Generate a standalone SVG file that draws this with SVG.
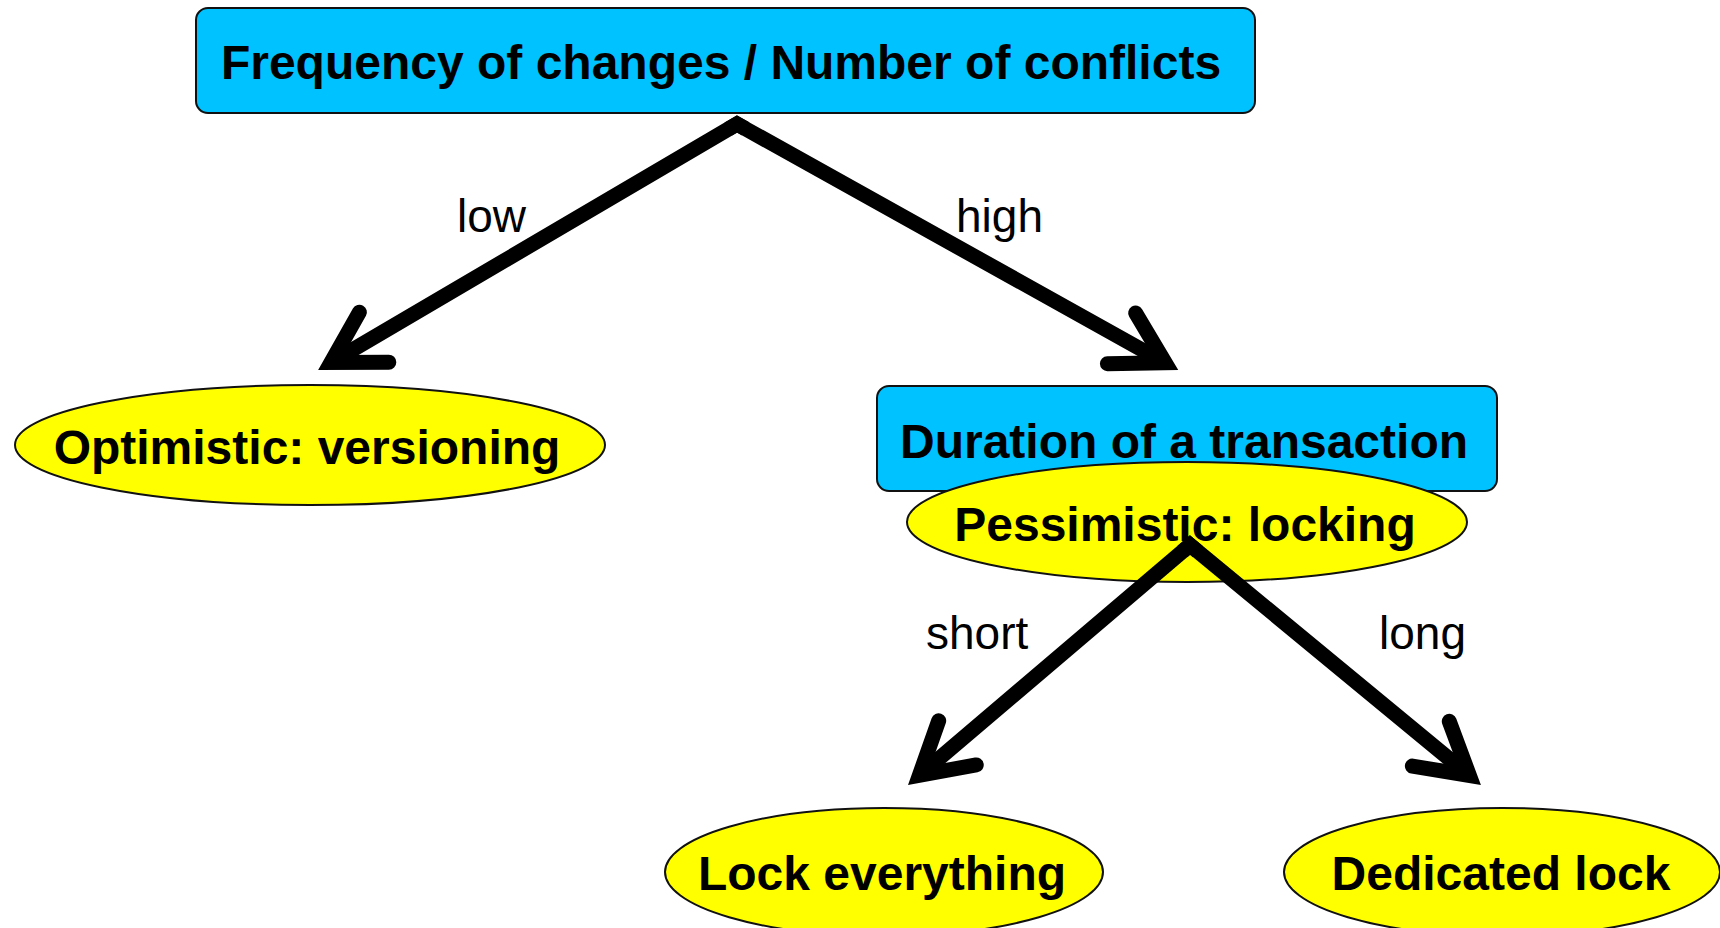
<svg xmlns="http://www.w3.org/2000/svg" width="1720" height="928" viewBox="0 0 1720 928">
<style>
.box{fill:#00C2FF;stroke:#111;stroke-width:2}
.ell{fill:#FFFF00;stroke:#111;stroke-width:2}
.nt{font-family:"Liberation Sans",Arial,sans-serif;font-weight:bold;font-size:48px;fill:#000;text-anchor:middle}
.lbl{font-family:"Liberation Sans",Arial,sans-serif;font-size:46px;fill:#000}
.edge{fill:none;stroke:#000;stroke-width:15;stroke-linejoin:miter;stroke-linecap:butt}
</style>
<defs>
<marker id="arrow" markerUnits="userSpaceOnUse" viewBox="-70 -45 90 90" refX="0" refY="0" markerWidth="90" markerHeight="90" orient="auto">
<path d="M-50,-29 L0,0 L-50,29" fill="none" stroke="#000" stroke-width="15" stroke-linecap="round" stroke-linejoin="miter"/>
</marker>
</defs>
<g id="node-frequency">
<rect class="box" x="196" y="8" width="1059" height="105" rx="12"/>
<text class="nt" x="721" y="79">Frequency of changes / Number of conflicts</text>
</g>
<g id="node-optimistic">
<ellipse class="ell" cx="310" cy="445" rx="295" ry="60"/>
<text class="nt" x="307" y="464">Optimistic: versioning</text>
</g>
<g id="node-duration">
<rect class="box" x="877" y="386" width="620" height="105" rx="12"/>
<text class="nt" x="1184" y="458">Duration of a transaction</text>
</g>
<g id="node-pessimistic">
<ellipse class="ell" cx="1187" cy="522" rx="280" ry="60"/>
<text class="nt" x="1185" y="541">Pessimistic: locking</text>
</g>
<g id="node-lock-everything">
<ellipse class="ell" cx="884" cy="872" rx="219" ry="64"/>
<text class="nt" x="882" y="890">Lock everything</text>
</g>
<g id="node-dedicated-lock">
<ellipse class="ell" cx="1502" cy="872" rx="218" ry="64"/>
<text class="nt" x="1501" y="890">Dedicated lock</text>
</g>
<g id="connectors">
<path class="edge" d="M745.7,128.9 L737,124 L331,362.5" marker-end="url(#arrow)"/>
<path class="edge" d="M728.3,129 L737,124 L1165.2,362.7" marker-end="url(#arrow)"/>
<path class="edge" d="M1197.7,551.4 L1190,545 L919.4,775.3" marker-end="url(#arrow)"/>
<path class="edge" d="M1182.4,551.5 L1190,545 L1469.4,775.5" marker-end="url(#arrow)"/>
<text class="lbl" x="457" y="232">low</text>
<text class="lbl" x="956" y="232">high</text>
<text class="lbl" x="926" y="649">short</text>
<text class="lbl" x="1379" y="649">long</text>
</g>
</svg>
